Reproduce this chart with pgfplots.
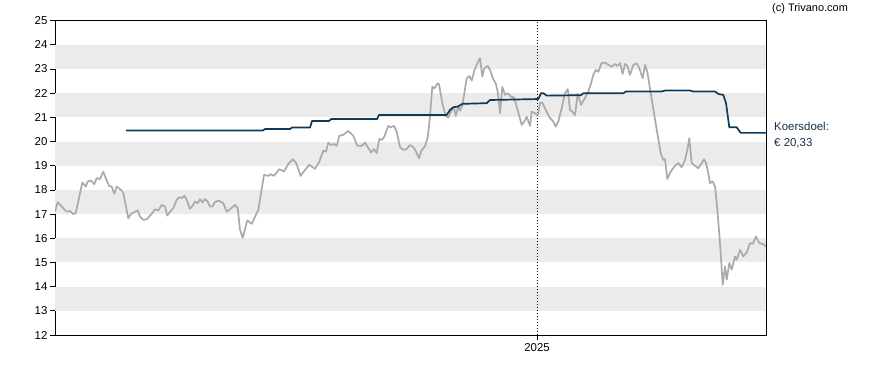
\documentclass[border=0pt]{standalone}
\usepackage{pgfplots}
\pgfplotsset{compat=1.18}
\usepackage{fontspec}
\setmainfont{Liberation Sans}
\definecolor{bandgray}{RGB}{235,235,235}
\definecolor{pricegray}{RGB}{170,170,170}
\definecolor{targetblue}{RGB}{12,58,92}
\definecolor{labelblue}{RGB}{20,50,80}
\begin{document}
\begin{tikzpicture}[x=1bp,y=1bp]
\useasboundingbox (0,0) rectangle (888,370);
\begin{axis}[
  at={(55bp,35bp)}, anchor=south west,
  scale only axis, width=711bp, height=314.3bp,
  xmin=55, xmax=766, ymin=12, ymax=25,
  ytick={12,13,...,25},
  xtick={537}, xticklabels={2025},
  tick align=outside, major tick length=5bp,
  xtick pos=bottom, ytick pos=left,
  tick style={black, line width=0.8bp},
  axis line style={black, line width=0.9bp},
  ticklabel style={font=\fontsize{11.5}{13}\selectfont, text=black},
  /pgf/number format/assume math mode=true,
  yticklabel style={xshift=1bp},
  clip=true,
]
\foreach \b in {13,15,17,19,21,23}{
  \edef\tmp{\noexpand\fill[bandgray] (axis cs:55,\b) rectangle (axis cs:766,\b+1);}
  \tmp
}
\draw[black, line width=0.9bp, dash pattern=on 0.9bp off 2.1bp] (axis cs:537,12) -- (axis cs:537,25);
% price
\addplot[pricegray, line width=1.7bp, line join=round] coordinates {
(55,17.1)(57.7,17.5)(61.7,17.31)(66.7,17.1)(70,17.13)(73.3,17.0)(75.7,17.04)(79,17.66)(82.3,18.31)(85.7,18.14)(87.7,18.35)(91,18.39)(94.3,18.24)(96.7,18.49)(100,18.45)(103.3,18.76)(105.7,18.49)(109,18.17)(111.7,18.14)(114.3,17.84)(116.7,18.14)(121,18.0)(123.3,17.87)(128.3,16.83)(131,17.01)(135,17.1)(137.7,17.15)(140,16.9)(143.3,16.76)(146.7,16.79)(151.7,17.01)(155,17.2)(158.3,17.15)(161.7,17.38)(165,17.31)(167.3,16.94)(170,17.1)(173.3,17.25)(176.7,17.59)(179,17.7)(181.7,17.66)(184.3,17.76)(186.7,17.59)(190,17.22)(193.3,17.38)(195,17.52)(197.7,17.45)(200,17.62)(202.3,17.48)(205,17.62)(207.7,17.52)(210,17.31)(212.3,17.31)(215,17.5)(218.3,17.56)(223.3,17.45)(226.7,17.1)(230,17.2)(235,17.38)(237.7,17.25)(240,16.35)(242.7,16.02)(247.3,16.74)(251.7,16.6)(258.3,17.18)(264,18.62)(268.3,18.58)(270.7,18.65)(274,18.58)(279.3,18.86)(284,18.76)(288.3,19.08)(292.7,19.27)(296,19.13)(300.7,18.58)(305,18.83)(309.3,19.04)(315,18.87)(319.3,19.17)(323.3,19.63)(326,19.59)(328.3,19.96)(330.7,19.86)(334,19.9)(336.7,19.82)(339.3,20.24)(343.3,20.28)(348.3,20.44)(353.3,20.24)(357.3,19.83)(361.7,19.82)(365,19.96)(368.3,19.73)(371,19.55)(374,19.69)(376.7,19.52)(379.3,20.11)(381.7,20.07)(384,20.18)(388.3,20.65)(390.7,20.59)(394,20.65)(396.7,20.41)(400,19.77)(403.3,19.66)(406.7,19.69)(410,19.86)(413.3,19.77)(416,19.59)(419,19.31)(421,19.59)(425,19.82)(427.7,20.18)(430,21.03)(432.3,22.27)(434.3,22.2)(437.7,22.41)(439,22.38)(442.3,21.59)(445.7,21.06)(448.3,20.99)(451.7,21.31)(454.3,21.34)(455.7,21.06)(458.3,21.45)(460,21.28)(462.3,21.48)(464.3,22.0)(466.7,22.62)(469.3,22.71)(471.7,22.52)(474.3,22.93)(477.3,23.24)(480,23.45)(482.3,22.69)(484.3,23.03)(487.7,23.13)(490,22.96)(493.3,22.58)(495.7,22.41)(497.7,22.07)(500,21.17)(502.3,22.27)(505,21.93)(507.7,22.0)(511,21.86)(513.7,21.83)(515.7,21.59)(519,21.1)(521.7,20.69)(524.3,20.83)(526.7,21.03)(530,20.65)(531.7,21.24)(535,21.17)(537.7,21.06)(540,21.59)(542.3,21.61)(545.7,21.31)(550,20.97)(553.3,20.83)(555.7,20.62)(558.3,20.83)(561.7,21.38)(565,22.0)(567.7,22.17)(570,21.31)(572.3,21.24)(575,21.1)(577.7,21.97)(581,21.52)(584.3,21.75)(588.3,22.07)(591,22.41)(593.3,22.76)(595.7,22.96)(598.3,22.89)(601.7,23.26)(605,23.26)(606,23.24)(608.3,23.17)(611.7,23.1)(615,23.21)(617.3,23.13)(620,23.24)(622.7,22.8)(625,23.21)(627.3,23.13)(630,22.76)(633.3,23.17)(636.7,23.24)(639.3,23.03)(642.7,22.62)(645,23.17)(647.3,22.89)(650.7,22.0)(654,21.17)(657.3,20.35)(660.7,19.52)(663.3,19.24)(665,19.27)(667.3,18.45)(670.7,18.76)(675,19.0)(678.3,19.11)(681.7,18.94)(685,19.24)(687.3,19.66)(689.3,20.14)(691.7,19.11)(695,19.0)(698.3,18.9)(701.7,19.11)(704,19.27)(706,19.11)(708.3,18.69)(710,18.28)(712.7,18.35)(715,18.14)(717.3,17.18)(720,15.8)(722.7,14.08)(725,14.83)(726.7,14.29)(729.3,14.98)(731.7,14.7)(735,15.25)(736.7,15.11)(740,15.52)(743.3,15.25)(746.7,15.41)(750,15.8)(752.7,15.77)(756,16.07)(759.3,15.8)(763.3,15.76)(765.7,15.66)
};
% target
\addplot[targetblue, line width=1.7bp, line join=round] coordinates {
(126,20.46)(263,20.46)(265,20.52)(290,20.52)(292,20.58)(310,20.58)(312,20.85)(329,20.85)(331,20.93)(377,20.93)(379,21.1)(446.7,21.1)(450,21.31)(453.3,21.42)(458,21.45)(462.3,21.56)(486.7,21.59)(490,21.72)(538.3,21.76)(541,22.0)(543.3,22.0)(546.7,21.9)(581,21.92)(583.3,22.0)(623.3,22.0)(626,22.07)(661.7,22.07)(665,22.11)(690,22.11)(693.3,22.07)(715,22.07)(718.3,21.97)(723.3,21.93)(726,21.59)(729.3,20.59)(736.7,20.59)(740.7,20.36)(766,20.36)
};
\end{axis}
\node[anchor=west, font=\fontsize{11}{13}\selectfont, text=black, inner sep=0] at (772,361) {(c) Trivano.com};
\node[anchor=west, font=\fontsize{11.5}{13}\selectfont, text=labelblue, inner sep=0] at (774,244) {Koersdoel:};
\node[anchor=west, font=\fontsize{11.5}{13}\selectfont, text=labelblue, inner sep=0] at (774,227) {€ 20,33};
\end{tikzpicture}
\end{document}
